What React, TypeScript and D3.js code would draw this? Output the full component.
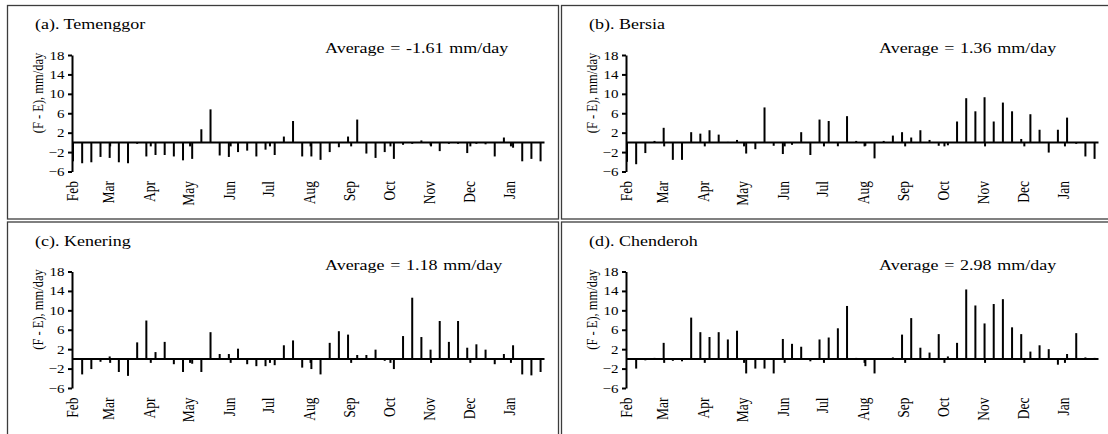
import React, { useEffect, useRef } from 'react';
import * as d3 from 'd3';

// month tick labels and the day (from 1 Feb) where each month starts
const months = ['Feb', 'Mar', 'Apr', 'May', 'Jun', 'Jul', 'Aug', 'Sep', 'Oct', 'Nov', 'Dec', 'Jan'];
const monthStartDay = [0, 28, 59, 89, 120, 150, 181, 212, 242, 273, 303, 334];
const yTicks = [-6, -2, 2, 6, 10, 14, 18];

// weekly F - E (mm/day), 52 weeks from Feb
const temenggor = [
  -3.9, -4.3, -4.1, -3.0, -3.2, -4.1, -4.3, -0.3, -2.9, -2.6, -2.6, -2.9, -3.7,
  -3.4, 2.7, 6.8, -2.7, -3.0, -2.0, -1.7, -2.9, -1.5, -2.6, 1.2, 4.4, -2.9,
  -2.9, -3.6, -2.0, -1.0, 1.2, 4.7, -2.3, -3.2, -2.0, -3.4, -0.5, -0.3, 0.4,
  -0.6, -1.8, -0.3, -0.3, -2.2, -0.3, -0.4, -2.9, 1.0, -1.1, -3.9, -3.4, -3.9,
];
const bersia = [
  -4.0, -4.5, -2.2, 0.3, 3.0, -3.6, -3.6, 2.1, 1.8, 2.5, 1.6, 0.1, 0.5,
  -2.3, -1.4, 7.2, -0.7, -2.4, -0.5, 2.1, -2.6, 4.7, 4.4, -0.8, 5.4, 0.3,
  -0.7, -3.3, 0.3, 1.4, 2.1, 1.0, 2.5, 0.5, -0.7, -0.6, 4.3, 9.1, 6.4,
  9.3, 4.3, 8.2, 6.4, 0.7, 5.8, 2.6, -2.1, 2.6, 5.1, -0.3, -2.9, -3.4,
];
const kenering = [
  0, -3.2, -2.1, -0.6, 0.5, -2.7, -3.5, 3.4, 7.9, 1.4, 3.5, -1.1, -2.7,
  -1.0, -2.7, 5.5, 1.0, 1.0, 2.1, -1.1, -1.5, -1.5, -1.3, 2.8, 3.8, -1.8,
  -2.1, -3.2, 3.3, 5.7, 5.0, 0.8, 0.8, 1.9, -0.4, -2.1, 4.7, 12.6, 4.5,
  1.9, 7.8, 3.5, 7.8, 2.3, 3.0, 1.9, -1.1, 1.0, 2.8, -3.2, -3.4, -2.7,
];
const chenderoh = [
  0, -2.0, -0.3, 0.2, 3.3, -0.4, -0.5, 8.5, 5.5, 4.5, 5.5, 4.0, 5.8,
  -3.0, -2.0, -2.0, -3.0, 4.1, 3.1, 2.5, -0.5, 4.0, 4.4, 6.3, 10.9, 0.2,
  -1.5, -3.0, 0.1, 0.3, 5.0, 8.4, 2.3, 1.3, 5.1, 0.5, 3.3, 14.3, 11.0,
  7.3, 11.3, 12.3, 6.5, 5.1, 1.5, 2.8, 2.0, -1.2, 1.0, 5.3, 0.3, 0.2,
];

const panels = [
  { title: '(a). Temenggor', average: 'Average = -1.61 mm/day', values: temenggor },
  { title: '(b). Bersia', average: 'Average = 1.36 mm/day', values: bersia },
  { title: '(c). Kenering', average: 'Average = 1.18 mm/day', values: kenering },
  { title: '(d). Chenderoh', average: 'Average = 2.98 mm/day', values: chenderoh },
];

const W = 1108;
const H = 434;
const font = '"Liberation Serif", "Times New Roman", serif';
const sx = 1.2; // the original figure is stretched sideways, text included

export default function App() {
  const ref = useRef<SVGSVGElement>(null);

  useEffect(() => {
    const svg = d3.select(ref.current);
    svg.selectAll('*').remove();

    const axisX = 72;
    const xs = d3.scaleLinear().domain([0, 360]).range([axisX + 1, axisX + 472.5]);
    const ys = d3.scaleLinear().domain([-6, 18]).range([171.5, 55]);

    panels.forEach((p, i) => {
      const col = i % 2;
      const row = Math.floor(i / 2);
      const g = svg.append('g')
        .attr('transform', `translate(${col * 554},${row * 216.5})`);

      // panel frame
      g.append('rect')
        .attr('x', 7.5).attr('y', 5.5)
        .attr('width', 551).attr('height', 213.5)
        .attr('fill', 'none')
        .attr('stroke', '#3c3c3c')
        .attr('stroke-width', 1.3);

      g.append('text')
        .attr('transform', `translate(35,29) scale(${sx},1)`)
        .style('font-family', font).style('font-size', '15px')
        .text(p.title);

      g.append('text')
        .attr('transform', `translate(${axisX + 253},53) scale(${sx},1)`)
        .style('font-family', font).style('font-size', '15px')
        .style('word-spacing', '1px')
        .text(p.average);

      // bars
      g.selectAll('rect.bar')
        .data(p.values)
        .enter()
        .append('rect')
        .attr('class', 'bar')
        .attr('x', (_, k) => xs(k * 7) - 1)
        .attr('width', 2)
        .attr('y', d => ys(Math.max(0, d)))
        .attr('height', d => Math.abs(ys(d) - ys(0)))
        .attr('fill', '#000');

      // x axis along zero with month ticks
      const xAxis = g.append('g')
        .attr('transform', `translate(0,${ys(0)})`)
        .call(d3.axisBottom(xs).tickValues(monthStartDay.slice(1)).tickSize(4).tickSizeOuter(0).tickFormat(() => ''));
      xAxis.select('.domain').attr('stroke-width', 2).attr('d', `M${axisX},0H${xs(360)}`);
      xAxis.selectAll('line').attr('stroke-width', 2);

      // y axis
      const yAxis = g.append('g')
        .attr('transform', `translate(${axisX},0)`)
        .call(d3.axisLeft(ys).tickValues(yTicks).tickSize(4).tickSizeOuter(0).tickPadding(3));
      yAxis.select('.domain').attr('stroke-width', 2);
      yAxis.selectAll('line').attr('stroke-width', 2);
      yAxis.selectAll('text')
        .attr('x', -7.5 / sx)
        .attr('transform', `scale(${sx},1)`)
        .style('font-family', font).style('font-size', '12.5px');

      g.append('text')
        .attr('transform', `translate(43,93) scale(${sx},1) rotate(-90)`)
        .attr('text-anchor', 'middle')
        .style('font-family', font).style('font-size', '12.5px')
        .text('(F - E), mm/day');

      // month labels
      g.selectAll('text.month')
        .data(months)
        .enter()
        .append('text')
        .attr('class', 'month')
        .attr('transform', (_, k) => `translate(${xs(monthStartDay[k]) - 1},181) scale(${sx},1) rotate(-90)`)
        .attr('text-anchor', 'end')
        .attr('dy', '0.35em')
        .style('font-family', font).style('font-size', '13.5px')
        .text(d => d);
    });
  }, []);

  return (
    <svg ref={ref} width={W} height={H}
      style={{ position: 'absolute', left: 0, top: 0, background: '#fff' }} />
  );
}
